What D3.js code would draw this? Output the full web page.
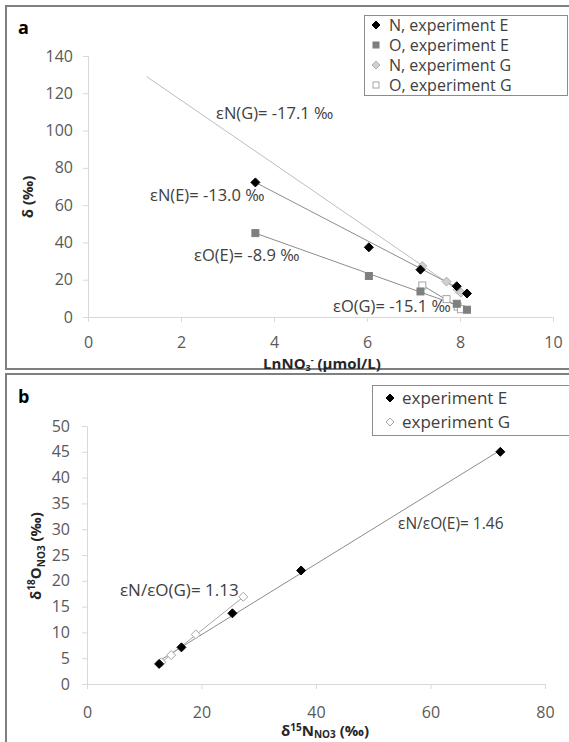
<!DOCTYPE html>
<html><head><meta charset="utf-8">
<script src="https://cdn.jsdelivr.net/npm/d3@7"></script>
<style>
body{margin:0;background:#fff}
text{font-family:"Open Sans",sans-serif}
</style>
</head><body>
<svg id="c" width="569" height="742"></svg>
<script>
// ---------- data ----------
// panel a : delta vs ln NO3-
const lnNO3_E = [3.60, 6.04, 7.15, 7.93, 8.15];
const dN_E    = [72.2, 37.4, 25.4, 16.5, 12.6];
const dO_E    = [45.0, 22.0, 13.7, 7.1, 3.9];
const lnNO3_G = [7.19, 7.71, 7.95, 8.02];
const dN_G    = [27.3, 19.0, 14.7, 13.0];
const dO_G    = [16.9, 9.6, 5.6, 4.2];

const seriesNamesA = ["N, experiment E", "O, experiment E", "N, experiment G", "O, experiment G"];
const seriesNamesB = ["experiment E", "experiment G"];

// trend lines panel a (order: N(G), N(E), O(E), O(G))
const trendLabelsA = ["εN(G)= -17.1 ‰", "εN(E)= -13.0 ‰", "εO(E)= -8.9 ‰", "εO(G)= -15.1 ‰"];
const trendSlopeA  = [-17.1, -13.0, -8.9, -15.1];
const trendInterA  = [150.5, 119.0, 77.0, 125.6];
const trendFromA   = [1.26, 3.60, 3.60, 7.19];
const trendToA     = [8.02, 8.15, 8.15, 8.02];

// trend lines panel b (E, G)
const trendLabelsB = ["εN/εO(E)= 1.46", "εN/εO(G)= 1.13"];
const trendSlopeB  = [1/1.46, 1/1.13];
const trendInterB  = [-4.14, -7.30];
const trendFromB   = [12.6, 13.0];
const trendToB     = [72.2, 27.3];

const xTicksA = [0, 2, 4, 6, 8, 10];
const yTicksA = [0, 20, 40, 60, 80, 100, 120, 140];
const xTicksB = [0, 20, 40, 60, 80];
const yTicksB = [0, 5, 10, 15, 20, 25, 30, 35, 40, 45, 50];

// ---------- drawing ----------
const svg = d3.select("#c");
const axisCol = "#d9d9d9", tickTxt = "#595959", annCol = "#404040";

function diamond(g, x, y, r, fill, stroke){
  g.append("path")
   .attr("d", `M${x},${y-r}L${x+r},${y}L${x},${y+r}L${x-r},${y}Z`)
   .attr("fill", fill).attr("stroke", stroke).attr("stroke-width", 1);
}
function square(g, x, y, r, fill, stroke){
  g.append("rect").attr("x", x-r).attr("y", y-r).attr("width", 2*r).attr("height", 2*r)
   .attr("fill", fill).attr("stroke", stroke).attr("stroke-width", 1);
}

function axes(g, x, y, xt, yt, xLabelOff, yLabelOff){
  const ax = g.append("g").attr("transform", `translate(0,${y(0)})`)
    .call(d3.axisBottom(x).tickValues(xt).tickSize(5).tickPadding(xLabelOff).tickFormat(d3.format("d")));
  const ay = g.append("g").attr("transform", `translate(${x(0)},0)`)
    .call(d3.axisLeft(y).tickValues(yt).tickSize(5).tickPadding(yLabelOff).tickFormat(d3.format("d")));
  [ax, ay].forEach(a => {
    a.select(".domain").attr("stroke", axisCol);
    a.selectAll(".tick line").attr("stroke", axisCol);
    a.selectAll(".tick text").attr("fill", tickTxt).style("font-size", "16px")
      .style("font-family", '"Open Sans",sans-serif');
  });
}

// panel borders
svg.append("rect").attr("x", 6).attr("y", 6).attr("width", 570).attr("height", 363)
  .attr("fill", "none").attr("stroke", "#7f7f7f").attr("stroke-width", 2);
svg.append("rect").attr("x", 6).attr("y", 374).attr("width", 570).attr("height", 380)
  .attr("fill", "none").attr("stroke", "#7f7f7f").attr("stroke-width", 2);

// ===== panel a =====
const gA = svg.append("g");
const xA = d3.scaleLinear().domain([0, 10]).range([88, 553]);
const yA = d3.scaleLinear().domain([0, 140]).range([317, 56]);
axes(gA, xA, yA, xTicksA, yTicksA, 15, 10);

const lineColA = ["#bdbdbd", "#8c8c8c", "#8c8c8c", "#8c8c8c"];
trendSlopeA.forEach((s, i) => {
  const f = v => s * v + trendInterA[i];
  gA.append("line")
    .attr("x1", xA(trendFromA[i])).attr("y1", yA(f(trendFromA[i])))
    .attr("x2", xA(trendToA[i])).attr("y2", yA(f(trendToA[i])))
    .attr("stroke", lineColA[i]).attr("stroke-width", 1);
});

lnNO3_G.forEach((v, i) => square(gA, xA(v), yA(dO_G[i]), 3.5, "#ffffff", "#a6a6a6"));
lnNO3_G.forEach((v, i) => diamond(gA, xA(v), yA(dN_G[i]), 4.5, "#d0d0d0", "#b0b0b0"));
lnNO3_E.forEach((v, i) => square(gA, xA(v), yA(dO_E[i]), 3.5, "#7f7f7f", "#7f7f7f"));
lnNO3_E.forEach((v, i) => diamond(gA, xA(v), yA(dN_E[i]), 4.5, "#000000", "#000000"));

// annotations a
const annXA = [216, 150, 194, 333], annYA = [113, 195, 255, 306];
trendLabelsA.forEach((t, i) => {
  gA.append("text").attr("x", annXA[i]).attr("y", annYA[i]).attr("dy", "0.35em")
    .attr("fill", annCol).style("font-size", "16.5px").text(t);
});

// legend a
gA.append("rect").attr("x", 364.5).attr("y", 15.5).attr("width", 203).attr("height", 80)
  .attr("fill", "#fff").attr("stroke", "#8c8c8c").attr("stroke-width", 1);
const legYA = [25, 45, 65, 85];
diamond(gA, 376, legYA[0], 4, "#000", "#000");
square(gA, 376, legYA[1], 3, "#7f7f7f", "#7f7f7f");
diamond(gA, 376, legYA[2], 4, "#d0d0d0", "#b0b0b0");
square(gA, 376, legYA[3], 3, "#fff", "#a6a6a6");
seriesNamesA.forEach((t, i) => {
  gA.append("text").attr("x", 389).attr("y", legYA[i]).attr("dy", "0.35em")
    .attr("fill", annCol).style("font-size", "16px").text(t);
});

gA.append("text").attr("x", 18).attr("y", 28).attr("dy", "0.35em")
  .style("font-size", "18px").style("font-weight", "bold").attr("fill", "#000").text("a");

// axis titles a
const xtA = gA.append("text").attr("x", 322).attr("y", 364).attr("dy", "0.35em")
  .attr("text-anchor", "middle").style("font-size", "15px").style("font-weight", "bold").attr("fill", "#262626");
xtA.append("tspan").text("LnNO");
xtA.append("tspan").attr("dy", "2").style("font-size", "9px").text("3");
xtA.append("tspan").attr("dy", "-8").style("font-size", "9px").text("-");
xtA.append("tspan").attr("dy", "6").text(" (µmol/L)");

gA.append("text").attr("transform", "translate(28,197) rotate(-90)").attr("dy", "0.35em")
  .attr("text-anchor", "middle").style("font-size", "15px").style("font-weight", "bold")
  .attr("fill", "#262626").text("δ (‰)");

// ===== panel b =====
const gB = svg.append("g");
const xB = d3.scaleLinear().domain([0, 80]).range([87, 545]);
const yB = d3.scaleLinear().domain([0, 50]).range([684, 426]);
axes(gB, xB, yB, xTicksB, yTicksB, 18, 12);

trendSlopeB.forEach((s, i) => {
  const f = v => s * v + trendInterB[i];
  gB.append("line")
    .attr("x1", xB(trendFromB[i])).attr("y1", yB(f(trendFromB[i])))
    .attr("x2", xB(trendToB[i])).attr("y2", yB(f(trendToB[i])))
    .attr("stroke", i === 0 ? "#8c8c8c" : "#a6a6a6").attr("stroke-width", 1);
});
dN_G.forEach((v, i) => diamond(gB, xB(v), yB(dO_G[i]), 4.5, "#ffffff", "#a6a6a6"));
dN_E.forEach((v, i) => diamond(gB, xB(v), yB(dO_E[i]), 4.5, "#000000", "#000000"));

const annXB = [398, 120], annYB = [524, 590], annSizeB = ["15.5px", "17px"];
trendLabelsB.forEach((t, i) => {
  gB.append("text").attr("x", annXB[i]).attr("y", annYB[i]).attr("dy", "0.35em")
    .attr("fill", annCol).style("font-size", annSizeB[i]).text(t);
});

gB.append("rect").attr("x", 372.5).attr("y", 385.5).attr("width", 200).attr("height", 50)
  .attr("fill", "#fff").attr("stroke", "#8c8c8c").attr("stroke-width", 1);
const legYB = [398, 422];
diamond(gB, 390, legYB[0], 4, "#000", "#000");
diamond(gB, 390, legYB[1], 4, "#fff", "#a6a6a6");
seriesNamesB.forEach((t, i) => {
  gB.append("text").attr("x", 402).attr("y", legYB[i]).attr("dy", "0.35em")
    .attr("fill", annCol).style("font-size", "17px").text(t);
});

gB.append("text").attr("x", 18).attr("y", 397).attr("dy", "0.35em")
  .style("font-size", "18px").style("font-weight", "bold").attr("fill", "#000").text("b");

const xtB = gB.append("text").attr("x", 325).attr("y", 731).attr("dy", "0.35em")
  .attr("text-anchor", "middle").style("font-size", "15px").style("font-weight", "bold").attr("fill", "#262626");
xtB.append("tspan").text("δ");
xtB.append("tspan").attr("dy", "-5").style("font-size", "10px").text("15");
xtB.append("tspan").attr("dy", "5").text("N");
xtB.append("tspan").attr("dy", "2").style("font-size", "10px").text("NO3");
xtB.append("tspan").attr("dy", "-2").text(" (‰)");

const ytB = gB.append("text").attr("transform", "translate(36,556) rotate(-90)").attr("dy", "0.35em")
  .attr("text-anchor", "middle").style("font-size", "15px").style("font-weight", "bold").attr("fill", "#262626");
ytB.append("tspan").text("δ");
ytB.append("tspan").attr("dy", "-6").style("font-size", "10px").text("18");
ytB.append("tspan").attr("dy", "6").text("O");
ytB.append("tspan").attr("dy", "4").style("font-size", "10px").text("NO3");
ytB.append("tspan").attr("dy", "-4").text(" (‰)");
</script>
</body></html>
